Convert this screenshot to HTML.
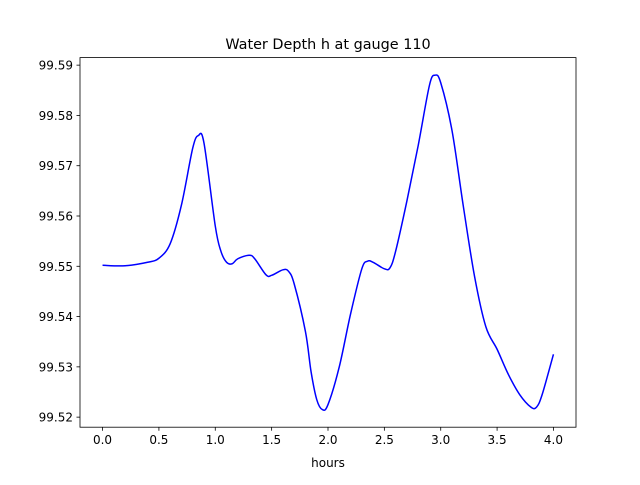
<!DOCTYPE html>
<html><head><meta charset="utf-8"><style>
body{margin:0;background:#fff;}
svg text{font-family:"DejaVu Sans","Liberation Sans",sans-serif;fill:#000;}
</style></head><body>
<svg id="chart" width="640" height="480" viewBox="0 0 640 480" xmlns="http://www.w3.org/2000/svg">
<rect width="640" height="480" fill="#fff"/>
<text x="328" y="49" font-size="14.4" text-anchor="middle">Water Depth h at gauge 110</text>
<g id="xticks"></g>
<g id="yticks"></g>
<path id="line" fill="none" stroke="#0000ff" stroke-width="1.5"/>
<rect x="80" y="57.6" width="496" height="369.6" fill="none" stroke="#000" stroke-width="0.8"/>
<text x="328" y="467" font-size="12" text-anchor="middle">hours</text>
</svg>
<script>
const hours=[0,0.2,0.4,0.5,0.6,0.7,0.8,0.85,0.9,1.0,1.05,1.1,1.15,1.2,1.3,1.35,1.45,1.5,1.6,1.65,1.7,1.8,1.85,1.9,1.95,2.0,2.1,2.2,2.3,2.35,2.4,2.5,2.55,2.6,2.7,2.8,2.9,2.95,3.0,3.1,3.2,3.3,3.4,3.5,3.6,3.7,3.8,3.85,3.9,4.0];
const depth=[99.5502,99.5501,99.5508,99.5516,99.5545,99.5622,99.5735,99.576,99.5745,99.558,99.553,99.5508,99.5505,99.5515,99.5522,99.5515,99.5483,99.5482,99.5493,99.549,99.5465,99.537,99.529,99.5235,99.5215,99.5225,99.530,99.5405,99.5495,99.551,99.5508,99.5495,99.5497,99.553,99.563,99.574,99.586,99.588,99.5865,99.577,99.562,99.548,99.538,99.5335,99.5285,99.5245,99.522,99.522,99.5245,99.5325];
const xTickLabels=["0.0","0.5","1.0","1.5","2.0","2.5","3.0","3.5","4.0"];
const yTickLabels=["99.52","99.53","99.54","99.55","99.56","99.57","99.58","99.59"];
const L=80,R=576,T=57.6,B=427.2;
const xmin=-0.2,xmax=4.2,ymin=99.518,ymax=99.5915;
const xs=v=>L+(v-xmin)/(xmax-xmin)*(R-L);
const ys=v=>B-(v-ymin)/(ymax-ymin)*(B-T);
const NS="http://www.w3.org/2000/svg";
const gx=document.getElementById('xticks'),gy=document.getElementById('yticks');
xTickLabels.forEach(t=>{const x=xs(parseFloat(t));
 const l=document.createElementNS(NS,'line');l.setAttribute('x1',x);l.setAttribute('x2',x);l.setAttribute('y1',B);l.setAttribute('y2',B+3.5);l.setAttribute('stroke','#000');l.setAttribute('stroke-width','0.8');
 
 gx.appendChild(l);
 const s=document.createElementNS(NS,'text');s.setAttribute('x',x);s.setAttribute('y',B+17);s.setAttribute('font-size','12');s.setAttribute('text-anchor','middle');s.textContent=t;
 
 gx.appendChild(s);});
yTickLabels.forEach(t=>{const y=ys(parseFloat(t));
 const l=document.createElementNS(NS,'line');l.setAttribute('x1',L-3.5);l.setAttribute('x2',L);l.setAttribute('y1',y);l.setAttribute('y2',y);l.setAttribute('stroke','#000');l.setAttribute('stroke-width','0.8');
 
 gy.appendChild(l);
 const s=document.createElementNS(NS,'text');s.setAttribute('x',L-7);s.setAttribute('y',y+4.5);s.setAttribute('font-size','12');s.setAttribute('text-anchor','end');s.textContent=t;
 
 gy.appendChild(s);});
// Catmull-Rom smoothing through data points
const P=hours.map((h,i)=>[xs(h),ys(depth[i])]);
let d=`M${P[0][0]},${P[0][1]}`;
for(let i=0;i<P.length-1;i++){const p0=P[Math.max(0,i-1)],p1=P[i],p2=P[i+1],p3=P[Math.min(P.length-1,i+2)];
 const c1=[p1[0]+(p2[0]-p0[0])/6,p1[1]+(p2[1]-p0[1])/6],c2=[p2[0]-(p3[0]-p1[0])/6,p2[1]-(p3[1]-p1[1])/6];
 d+=` C${c1[0]},${c1[1]} ${c2[0]},${c2[1]} ${p2[0]},${p2[1]}`;}
document.getElementById('line').setAttribute('d',d);
</script>
</body></html>
